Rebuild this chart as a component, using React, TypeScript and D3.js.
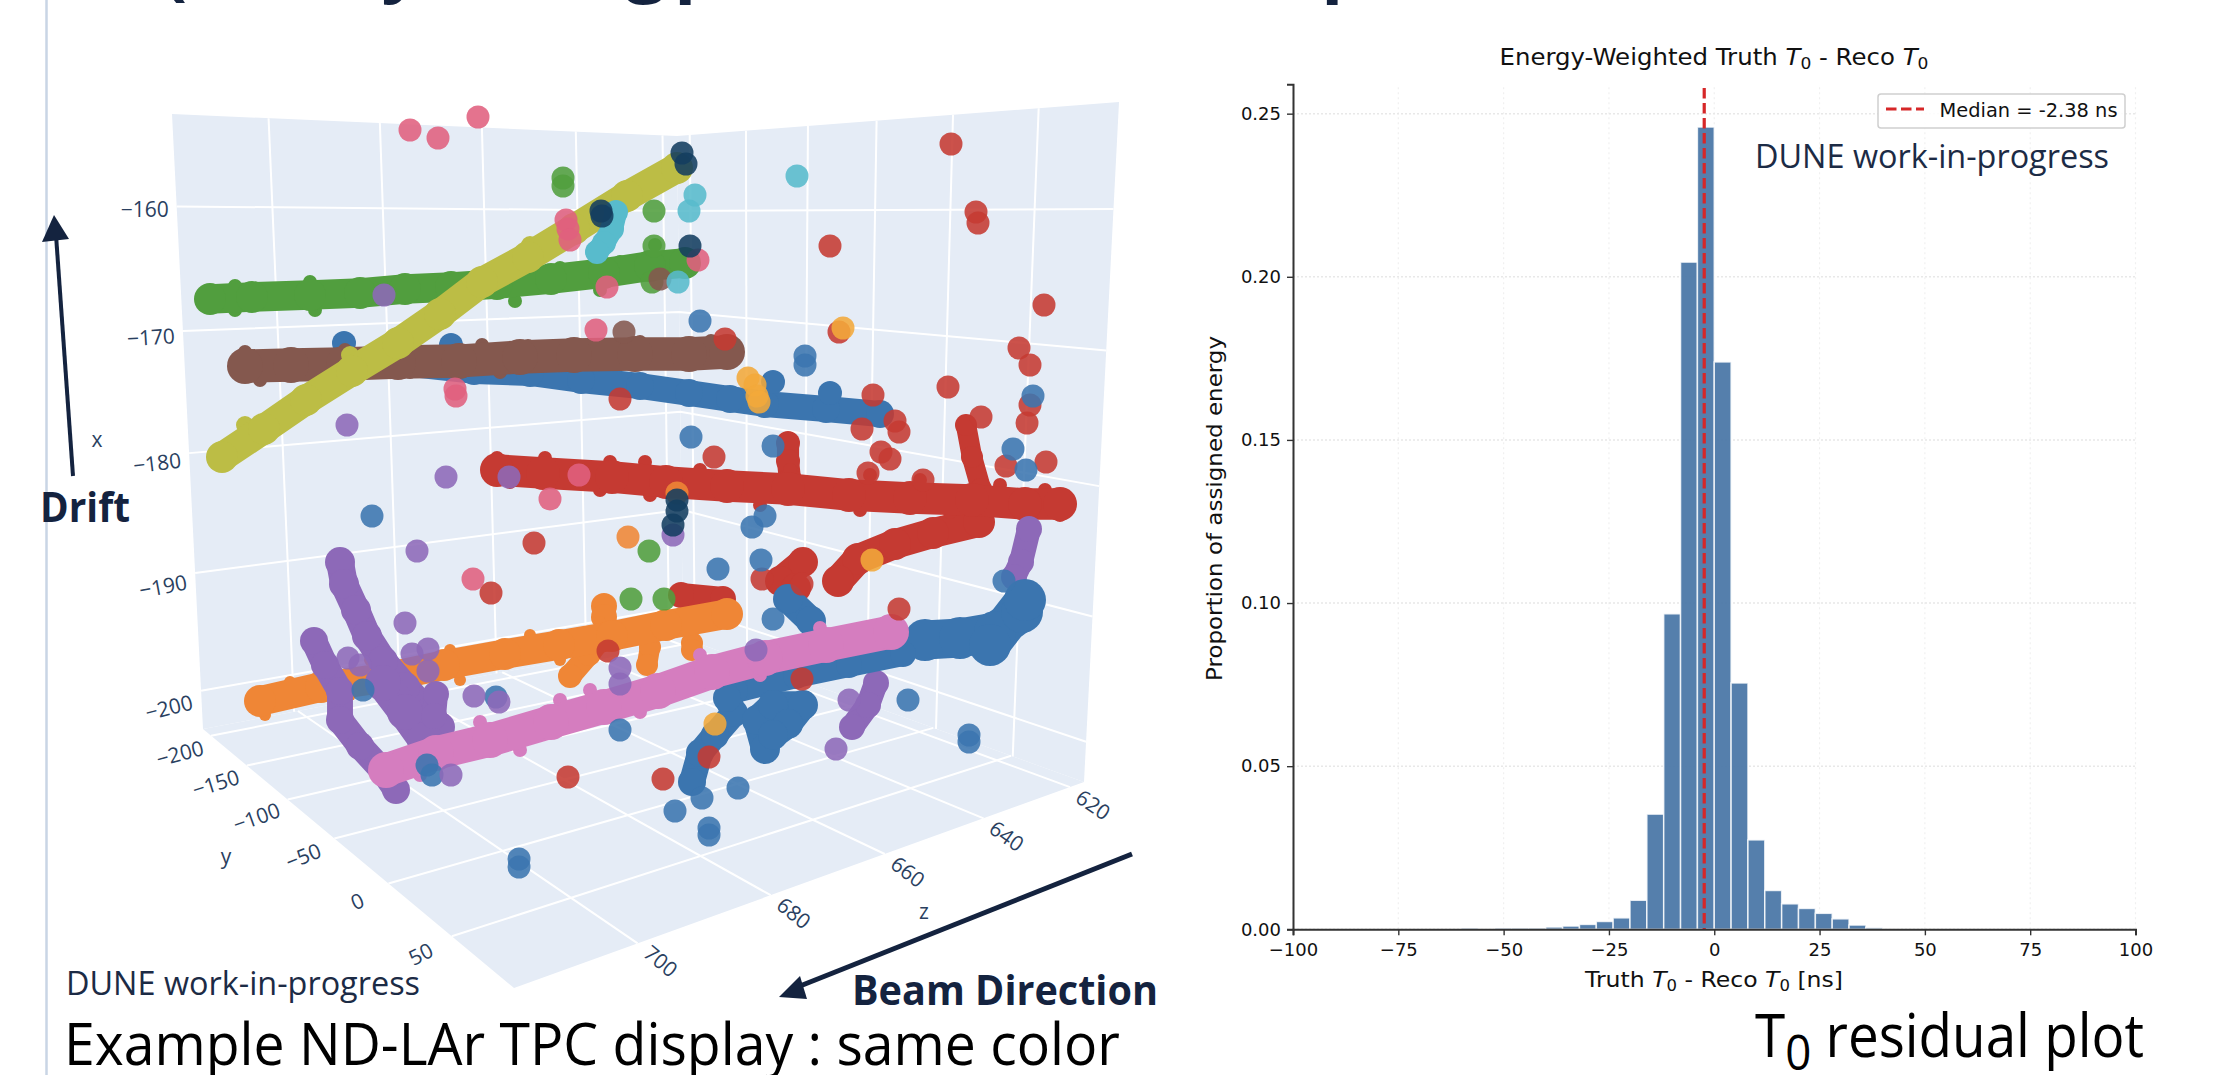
import React, { useRef, useEffect } from "react";
import * as d3 from "d3";

const WIDTH = 2222;
const HEIGHT = 1075;

// ---- histogram data (4 ns bins from -100 to 100) ----
const binEdgeStart = -100;
const binWidth = 4;
const binValues = [
  0, 0, 0, 0, 0, 0, 0, 0, 0, 0,
  0.0004, 0.0001, 0.0004, 0.0004, 0.0004, 0.0007, 0.001, 0.0015, 0.0024, 0.0035,
  0.0089, 0.0353, 0.0967, 0.2045, 0.2459, 0.1739, 0.0755, 0.0274, 0.0119, 0.0078,
  0.0064, 0.0049, 0.0032, 0.0013, 0.0005, 0.0001, 0, 0, 0, 0,
  0, 0, 0, 0, 0, 0, 0, 0, 0, 0,
];
const medianValue = -2.38;
const histXTicks = [-100, -75, -50, -25, 0, 25, 50, 75, 100];
const histYTicks = [0, 0.05, 0.1, 0.15, 0.2, 0.25];

// ---- 3D display axis ticks ----
const xAxisTicks = [-160, -170, -180, -190, -200];
const yAxisTicks = [-200, -150, -100, -50, 0, 50];
const zAxisTicks = [620, 640, 660, 680, 700];

// ---- hit tracks as [beam position, drift] ----
const blueUpper = [[770, -175.2], [758.8, -175.2], [744, -176], [732.8, -176.2], [722.6, -176.9], [710.8, -177.5], [701, -178.2], [692.8, -178.8], [685.8, -179.3], [673.6, -179.8], [662.8, -180.3]];
const blueUpperBumps = [[770, -173.2], [770, -174.4], [748.6, -173.4], [684.2, -177.1], [672.8, -178.2]];
const greenTrack = [[796.8, -168.8], [788.4, -168.6], [776.8, -168.4], [766.8, -168.2], [757.8, -167.8], [748.6, -167.6], [739.4, -167.3], [728.6, -166.8], [718, -166.2], [708.8, -165.5], [701.8, -165.2]];
const greenBumps = [[791.8, -167.5], [776.8, -167.1], [759.8, -167.2], [746.4, -166.9], [726.8, -165.7], [714.8, -165.1], [707.8, -163.4], [791.8, -169.9], [775.8, -169.9], [750.8, -169.4], [735.8, -169], [718.8, -167.9]];
const brownTrack = [[789.8, -175.5], [780.6, -175.4], [770, -175.3], [759.2, -175.1], [747, -175], [734.8, -174.6], [724, -174.4], [711.8, -174.3], [701, -174.3], [693.4, -174.1]];
const brownBumps = [[789.8, -174.1], [769.8, -173.9], [742.4, -173.4], [733.2, -173.5], [723.8, -173.4], [710.8, -173.1], [696.6, -173], [786.8, -176.9], [772.8, -176.7], [756.8, -176.1], [738.8, -176.1]];
const oliveTrack = [[794.4, -184.6], [786, -181.8], [777.6, -178.9], [768.4, -176], [759.2, -173.2], [750.8, -170.3], [742.4, -167.1], [733.2, -164.6], [724, -161.8], [713.4, -158.5], [703.4, -155.7]];
const oliveBumps = [[789.8, -181.4], [768.8, -174.4], [748.8, -168.9], [732.8, -163.4]];
const redMain = [[739.4, -185.9], [730.2, -186.2], [716.4, -186.6], [705.6, -187.1], [693.4, -187.5], [681.2, -187.8], [669, -188.4], [656.8, -188.7], [644.4, -188.9], [633.8, -189.3], [626.8, -189.3]];
const redBumps = [[739.4, -184.7], [729.8, -184.7], [716.8, -185.1], [709.8, -185.1], [698.8, -185.9], [680.8, -185.9], [664.8, -186.4], [654.8, -186.9], [638.8, -187.4], [629.8, -187.9], [736.8, -187.1], [718.8, -187.9], [708.8, -188.4], [686.8, -189.4], [666.8, -189.9], [648.8, -190.1], [632.8, -190.9], [626.8, -190.4]];
const redVertical = [[645.6, -181.4], [644.4, -184.6], [642.6, -187.8]];
const redStub = [[681.2, -183.2], [681.2, -185], [680.8, -186.9]];
const redDiagonal = [[643, -191.1], [652.2, -192.2], [659.8, -193.3], [667.2, -194.8], [671.2, -197]];
const redCluster = [[678.2, -195.1], [682.8, -197], [679.6, -197.7]];
const redBehindOrange = [[702.6, -198.4], [694.2, -198.8]];
const orangeTrack = [[786.8, -209], [774.6, -207.6], [762.2, -206.7], [750, -205.4], [737.8, -204.3], [727, -203.4], [716.4, -202.5], [705.6, -201.4], [693.4, -200.3]];
const orangeBumps = [[780.8, -207.1], [764.8, -204.9], [748.8, -203.9], [732.8, -202.4], [718.8, -201.1], [785.8, -210.4], [768.8, -208.4], [746.8, -206.9], [726.8, -204.9]];
const orangeBranchA = [[718, -199.5], [718, -200.6]];
const orangeBranchB = [[718.8, -202.9], [721, -204.3], [724.8, -206.5]];
const orangeBranchC = [[708.8, -203.6], [709.4, -205.4]];
const orangeBranchD = [[700.4, -203.2], [700.4, -203.9]];
const purpleA = [[770.8, -195.1], [770, -197.3], [767.6, -199.9], [765.4, -202.5], [762.2, -205], [757.8, -207.6], [753.2, -210.2], [750.8, -211.6]];
const purpleB = [[776, -203], [773.8, -205.4], [770.8, -208], [770.8, -210.9], [766.8, -213.5], [762.2, -216], [759.6, -217.9]];
const purpleC = [[762.2, -207.2], [757.8, -210.1], [753.8, -212.9]];
const purpleD = [[751.6, -208.3], [752, -210.5]];
const purpleRight = [[633, -191.8], [634.6, -195.1], [636, -196.6]];
const purpleLower = [[663.6, -207.2], [665.2, -209.4], [668.4, -211.6]];
const blueThin = [[691.8, -208], [679.6, -206.5], [669, -205.4], [658.2, -204.3]];
const blueBlob = [[653.8, -202.9], [646.8, -202.7], [639.8, -202.1], [634.4, -200.1], [633.8, -198.9], [640.8, -203.4]];
const blueChainA = [[700.4, -217.1], [698.8, -214.2], [695.8, -212.4], [692, -210.2], [693.4, -208.7]];
const blueChainB = [[685.8, -213.8], [687.4, -210.9], [684.2, -209.4], [678.2, -209.4], [681.2, -211.3], [684.2, -212.4]];
const blueChainC = [[681.2, -198.8], [676.6, -201]];
const pinkTrack = [[761.6, -215.9], [751.6, -214.2], [740.8, -212.9], [728.6, -211.1], [718, -209.6], [707.2, -208], [696.4, -206.1], [685.8, -204.7], [673.6, -203.4], [660.6, -202.1]];
const pinkBumps = [[742.8, -211.1], [726.8, -208.9], [720.8, -207.9], [698.8, -204.4], [674.8, -201.7], [754.8, -216.4], [734.8, -213.9], [710.8, -210.1], [686.8, -206.4]];
const cyanStreak = [[715.6, -160.1], [716.4, -161.8], [718, -163.2], [719.4, -164.1]];

// ---- isolated hits ----
const roseHits = [[756.8, -151.9], [751.2, -152.7], [743.2, -150.6], [725.6, -160.9], [725.2, -161.8], [724.8, -162.9], [699.2, -164.9], [717.4, -167.6], [719.6, -171.9], [747.8, -177.8], [747.6, -178.5], [723, -186.4], [728.8, -188.8], [744.2, -196.8]];
const cyanHits = [[679.4, -156.5], [699.8, -158.4], [701, -160], [703.2, -167.1]];
const navyHits = [[702.4, -154.2], [701.6, -155.3], [718.6, -160], [718.4, -160.5], [700.8, -163.5], [703.4, -188.9], [703.4, -190], [704.2, -191.4]];
const greenHits = [[726.2, -156.7], [726.2, -157.5], [708, -160], [708, -163.5], [708.4, -167.1], [712.6, -198.8], [706, -198.8], [709, -194]];
const brownHits = [[714, -172.1], [706.8, -166.8]];
const orangeHits = [[703.4, -188.2], [713.2, -192.6]];
const amberHits = [[670.2, -171.7], [664.4, -194.9], [695.8, -211.3], [689.2, -176.7], [687.8, -177.4], [687.4, -178.5], [687, -179.1]];
const purpleHits = [[671.6, -213.8], [669, -208.9], [714.8, -205.7], [714.8, -207.3], [744, -208.5], [739, -209.1], [748.6, -216.4], [757.8, -201.2], [755.4, -194], [753.2, -206], [753.2, -203.8], [756.4, -204.3], [769.2, -204.7], [766.8, -205.4], [687.6, -203.9], [704.2, -192.4], [762, -168.4], [769.4, -181.4], [749.6, -186.6], [737, -186.6]];
const redHits = [[648.6, -153.3], [643.6, -160.1], [643.2, -161.2], [672.8, -163.5], [630, -169.4], [671, -172.1], [693.8, -172.8], [635, -173.7], [632.8, -175.4], [649.2, -177.6], [664.2, -178.4], [714.8, -178.8], [632.8, -179.4], [642.6, -180.6], [633.4, -181.2], [659.8, -181], [659, -182.1], [666.4, -181.8], [662.6, -184.1], [660.8, -184.8], [696, -184.6], [637.6, -185.5], [629.6, -185.1], [665.2, -186.2], [654.2, -186.9], [732, -193.2], [740.6, -198.2], [717.2, -204], [678.4, -206.8], [725.2, -216.6], [706.2, -216.8], [697, -214.6], [659, -199.8], [686.4, -196.8], [678.4, -197.3]];
const blueHits = [[698.8, -171], [677.8, -174.5], [677.8, -175.4], [632.2, -178.5], [700.6, -182.6], [684.2, -183.5], [636.2, -183.8], [633.6, -185.9], [764.4, -190.5], [685.8, -190.5], [688.4, -191.6], [686.6, -194.9], [695.2, -195.8], [684.2, -200.8], [739.6, -208.6], [766.2, -207.9], [753.4, -215.4], [752.4, -216.4], [714.8, -211.9], [691.2, -217.7], [698.4, -218.7], [703.8, -220], [697, -221.7], [697, -222.4], [735, -224.8], [735, -225.6], [657.2, -208.9], [645, -212.4], [645, -213.1], [638, -197]];

const COLORS = {
  blue: "#3b75af", red: "#c53a32", green: "#519e3e", orange: "#ef8636",
  purple: "#8d69b8", brown: "#84584e", pink: "#d57dbf", olive: "#bcbd45",
  cyan: "#58bbcc", navy: "#133e60", rose: "#e0607e", amber: "#f3a93a",
};

// draw order matters, tracks overlap each other
const tracks: [number[][], string, number, boolean][] = [
  [blueUpper, COLORS.blue, 14, true],
  [blueUpperBumps, COLORS.blue, 12, false],
  [greenBumps, COLORS.green, 7, false],
  [greenTrack, COLORS.green, 16, true],
  [brownBumps, COLORS.brown, 7, false],
  [brownTrack, COLORS.brown, 18, true],
  [oliveBumps, COLORS.olive, 9, false],
  [oliveTrack, COLORS.olive, 16, true],
  [cyanStreak, COLORS.cyan, 12, true],
  [redBehindOrange, COLORS.red, 13, true],
  [redVertical, COLORS.red, 11, true],
  [redStub, COLORS.red, 12, true],
  [redDiagonal, COLORS.red, 16, true],
  [redCluster, COLORS.red, 15, true],
  [redBumps, COLORS.red, 7, false],
  [redMain, COLORS.red, 17, true],
  [blueChainC, COLORS.blue, 15, true],
  [orangeBranchA, COLORS.orange, 13, true],
  [orangeBranchB, COLORS.orange, 12, true],
  [orangeBranchC, COLORS.orange, 11, true],
  [orangeBranchD, COLORS.orange, 11, true],
  [orangeBumps, COLORS.orange, 6, false],
  [orangeTrack, COLORS.orange, 16, true],
  [purpleA, COLORS.purple, 15, true],
  [purpleB, COLORS.purple, 14, true],
  [purpleC, COLORS.purple, 18, true],
  [purpleD, COLORS.purple, 13, true],
  [purpleRight, COLORS.purple, 13, true],
  [purpleLower, COLORS.purple, 13, true],
  [blueBlob, COLORS.blue, 21, true],
  [blueThin, COLORS.blue, 13, true],
  [blueChainA, COLORS.blue, 14, true],
  [blueChainB, COLORS.blue, 15, true],
  [pinkBumps, COLORS.pink, 7, false],
  [pinkTrack, COLORS.pink, 18, true],
];
const hitGroups: [number[][], string][] = [
  [greenHits, COLORS.green],
  [redHits, COLORS.red],
  [blueHits, COLORS.blue],
  [purpleHits, COLORS.purple],
  [brownHits, COLORS.brown],
  [orangeHits, COLORS.orange],
  [cyanHits, COLORS.cyan],
  [amberHits, COLORS.amber],
  [roseHits, COLORS.rose],
  [navyHits, COLORS.navy],
];

// maps the unit square onto a quad (perspective walls of the 3D box)
const quadMap = (q: number[][]) => {
  const [[x0, y0], [x1, y1], [x2, y2], [x3, y3]] = q;
  const dx1 = x1 - x2, dx2 = x3 - x2, sx = x0 - x1 + x2 - x3;
  const dy1 = y1 - y2, dy2 = y3 - y2, sy = y0 - y1 + y2 - y3;
  const den = dx1 * dy2 - dx2 * dy1;
  const g = (sx * dy2 - dx2 * sy) / den;
  const h = (dx1 * sy - sx * dy1) / den;
  const a = x1 - x0 + g * x1, b = x3 - x0 + h * x3;
  const d = y1 - y0 + g * y1, e = y3 - y0 + h * y3;
  return (u: number, v: number) => {
    const w = g * u + h * v + 1;
    return [(a * u + b * v + x0) / w, (d * u + e * v + y0) / w];
  };
};

const NAVY = "#14233f";
const PLOTLY_TEXT = "#2a3f5f";

const drawDisplay = (svg: any) => {
  const g = svg.append("g");

  // box corners of the scene
  const A = [172, 114], B = [677, 136], C = [1119, 102];
  const D = [203, 729], E = [683, 638], F = [1084, 782], G_ = [514, 988];

  const uZ = d3.scaleLinear().domain([716, 616.5]).range([0, 1]);
  const uY = d3.scaleLinear().domain([-212, 92]).range([0, 1]);
  const vX = d3.scaleLinear().domain([-203.3, -152.7]).range([0, 1]);

  const floor = quadMap([D, E, F, G_]); // (z, y)
  const leftWall = quadMap([D, E, B, A]); // (z, x)
  const rightWall = quadMap([E, F, C, B]); // (y, x)
  const line = d3.line();

  [[D, E, B, A], [E, F, C, B], [D, E, F, G_]].forEach((q) => {
    g.append("path").attr("d", line(q as any) + "Z").attr("fill", "#e5ecf6");
  });

  const grid = (pts: number[][]) =>
    g.append("path").attr("d", line(pts as any)).attr("fill", "none")
      .attr("stroke", "#fff").attr("stroke-width", 2);

  xAxisTicks.forEach((t) => {
    grid([leftWall(0, vX(t)), leftWall(1, vX(t)), rightWall(1, vX(t))]);
  });
  zAxisTicks.forEach((t) => {
    grid([leftWall(uZ(t), 0), leftWall(uZ(t), 1)]);
    grid([floor(uZ(t), 0), floor(uZ(t), 1)]);
  });
  yAxisTicks.forEach((t) => {
    grid([rightWall(uY(t), 0), rightWall(uY(t), 1)]);
    grid([floor(0, uY(t)), floor(1, uY(t))]);
  });

  // tick labels
  const tickLabel = (px: number, py: number, rot: number, txt: string) =>
    g.append("text")
      .attr("transform", `translate(${px},${py}) rotate(${rot})`)
      .attr("text-anchor", "middle").attr("dy", "0.35em")
      .attr("font-family", "'Open Sans'").attr("font-size", 21)
      .attr("fill", PLOTLY_TEXT).text(txt);

  const minus = (t: number) => String(t).replace("-", "\u2212");
  const rotX = d3.scaleLinear().domain([-160, -200]).range([0, -14]);
  const rotY = d3.scaleLinear().domain([-200, 50]).range([-15, -27]);
  const rotZ = d3.scaleLinear().domain([620, 700]).range([34, 40]);
  const dropX = d3.scaleLinear().domain([-160, -200]).range([3, 17]);
  xAxisTicks.forEach((t) => {
    const [px, py] = leftWall(0, vX(t));
    tickLabel(px - 32, py + dropX(t), rotX(t), minus(t));
  });
  yAxisTicks.forEach((t) => {
    const [px, py] = floor(0, uY(t));
    tickLabel(px - 31, py + 18, rotY(t), minus(t));
  });
  zAxisTicks.forEach((t) => {
    const [px, py] = floor(uZ(t), 1);
    tickLabel(px + 23, py + 18, rotZ(t), String(t));
  });
  tickLabel(97, 440, 0, "x");
  tickLabel(226, 857, 0, "y");
  tickLabel(924, 912, 0, "z");

  // flat reading of the picture: beam position and drift
  const hScale = d3.scaleLinear().domain([620, 700]).range([1094, 694]);
  const vScale = d3.scaleLinear().domain([-160, -200]).range([211, 611]);
  const trackLine = d3.line()
    .x((d: any) => hScale(d[0]))
    .y((d: any) => vScale(d[1]));

  tracks.forEach(([pts, color, r, joined]) => {
    if (joined) {
      g.append("path").attr("d", trackLine(pts as any)).attr("fill", "none")
        .attr("stroke", color).attr("stroke-width", r * 1.85)
        .attr("stroke-linecap", "round").attr("stroke-linejoin", "round");
    }
    g.append("g").selectAll("circle").data(pts).enter().append("circle")
      .attr("cx", (d: any) => hScale(d[0]))
      .attr("cy", (d: any) => vScale(d[1]))
      .attr("r", r).attr("fill", color);
  });

  hitGroups.forEach(([pts, color]) => {
    g.append("g").selectAll("circle").data(pts).enter().append("circle")
      .attr("cx", (d: any) => hScale(d[0]))
      .attr("cy", (d: any) => vScale(d[1]))
      .attr("r", 11.5).attr("fill", color).attr("fill-opacity", 0.88);
  });
};

// text with italic T and subscript 0, like matplotlib mathtext
const mathText = (sel: any, parts: string[]) => {
  let pendingUp = false;
  parts.forEach((p) => {
    const sp = sel.append("tspan");
    if (p === "$T") {
      sp.attr("font-style", "italic").text("T");
      if (pendingUp) sp.attr("dy", "-0.2em");
      pendingUp = false;
    } else if (p === "$0") {
      sp.attr("font-size", "0.7em").attr("dy", "0.25em").text("0");
      pendingUp = true;
    } else {
      sp.text(p);
      if (pendingUp) sp.attr("dy", "-0.18em");
      pendingUp = false;
    }
  });
};

const drawHistogram = (svg: any) => {
  const x = d3.scaleLinear().domain([-100, 100]).range([1293, 2135.5]);
  const y = d3.scaleLinear().domain([0, 0.259]).range([929.3, 84.3]);
  const g = svg.append("g").attr("font-family", "'DejaVu Sans'");

  // faint dotted grid
  histXTicks.forEach((t) => {
    g.append("line").attr("x1", x(t)).attr("x2", x(t)).attr("y1", y(0)).attr("y2", y(0.259))
      .attr("stroke", "#f0f0f0").attr("stroke-width", 1.2).attr("stroke-dasharray", "2,3");
  });
  histYTicks.forEach((t) => {
    g.append("line").attr("x1", x(-100)).attr("x2", x(100)).attr("y1", y(t)).attr("y2", y(t))
      .attr("stroke", "#e8e8e8").attr("stroke-width", 1.5).attr("stroke-dasharray", "2,2");
  });

  g.append("g").selectAll("rect").data(binValues).enter().append("rect")
    .attr("x", (d: number, i: number) => x(binEdgeStart + i * binWidth))
    .attr("width", x(binWidth) - x(0))
    .attr("y", (d: number) => y(d))
    .attr("height", (d: number) => y(0) - y(d))
    .attr("fill", "#4c78a8").attr("fill-opacity", 0.95)
    .attr("stroke", "#fff").attr("stroke-opacity", 0.8).attr("stroke-width", 1.5);

  g.append("line").attr("x1", x(medianValue)).attr("x2", x(medianValue))
    .attr("y1", 88).attr("y2", y(0))
    .attr("stroke", "#d62728").attr("stroke-width", 3.2).attr("stroke-dasharray", "10.5,4.5");

  const xAxis = g.append("g").attr("transform", `translate(0,${y(0)})`)
    .call(d3.axisBottom(x).tickValues(histXTicks).tickSizeOuter(0).tickSize(6).tickPadding(8));
  const yAxis = g.append("g").attr("transform", `translate(${x(-100)},0)`)
    .call(d3.axisLeft(y).tickValues(histYTicks).tickFormat(d3.format(".2f")).tickSizeOuter(0).tickSize(6).tickPadding(6));
  [xAxis, yAxis].forEach((a) => {
    a.attr("font-family", "'DejaVu Sans'").attr("font-size", 18);
    a.selectAll("text").attr("fill", "#111");
    a.selectAll("line").attr("stroke", "#333").attr("stroke-width", 1.4);
    a.select(".domain").attr("stroke", "#333").attr("stroke-width", 2);
  });

  const label = (px: number, py: number, size: number, len: number, rot: number, parts: string[]) => {
    const t = g.append("text")
      .attr("transform", `translate(${px},${py}) rotate(${rot})`)
      .attr("text-anchor", "middle").attr("font-size", size).attr("fill", "#111")
      .attr("textLength", len).attr("lengthAdjust", "spacingAndGlyphs");
    mathText(t, parts);
  };
  label(1714, 65, 23, 429, 0, ["Energy-Weighted Truth ", "$T", "$0", " - Reco ", "$T", "$0"]);
  label(1714, 987, 22, 258, 0, ["Truth ", "$T", "$0", " - Reco ", "$T", "$0", " [ns]"]);
  label(1222, 508.5, 22, 345, -90, ["Proportion of assigned energy"]);

  // legend
  g.append("rect").attr("x", 1878).attr("y", 94).attr("width", 247).attr("height", 34).attr("rx", 3)
    .attr("fill", "#fff").attr("fill-opacity", 0.85).attr("stroke", "#cfcfcf").attr("stroke-width", 1.5);
  g.append("line").attr("x1", 1886).attr("x2", 1924).attr("y1", 109).attr("y2", 109)
    .attr("stroke", "#d62728").attr("stroke-width", 3.2).attr("stroke-dasharray", "10.5,4.5");
  g.append("text").attr("x", 1939.5).attr("y", 117).attr("font-size", 19).attr("fill", "#111")
    .attr("textLength", 178).attr("lengthAdjust", "spacingAndGlyphs").text("Median = -2.38 ns");
};

// slide furniture around the two plots
const drawSlideText = (svg: any) => {
  const g = svg.append("g").attr("font-family", "'Open Sans'");
  g.append("line").attr("x1", 46.5).attr("x2", 46.5).attr("y1", 0).attr("y2", HEIGHT)
    .attr("stroke", "#c9d5e5").attr("stroke-width", 2.5);

  // what is left of the slide title, only the descenders show
  [["(", 175, -8], ["y", 402, -12], ["g", 646, -12], ["p", 697, -12], ["p", 1344, -12]].forEach(([c, px, py]) => {
    g.append("text").attr("x", px).attr("y", py).attr("text-anchor", "middle")
      .attr("font-size", 72).attr("font-weight", 700).attr("fill", NAVY).text(c);
  });

  const txt = (px: number, py: number, size: number, len: number, fill: string, weight: number, s: string) =>
    g.append("text").attr("x", px).attr("y", py).attr("font-size", size)
      .attr("font-weight", weight).attr("fill", fill)
      .attr("textLength", len).attr("lengthAdjust", "spacingAndGlyphs").text(s);

  txt(40, 522, 42, 90, NAVY, 700, "Drift");
  txt(852, 1005, 42, 306, NAVY, 700, "Beam Direction");
  txt(66, 995, 33, 354, "#1c2b45", 400, "DUNE work-in-progress");
  txt(1755, 168, 33, 354, "#1c2b45", 400, "DUNE work-in-progress");
  txt(64, 1065, 58, 1056, "#000", 400, "Example ND-LAr TPC display : same color");

  const t0 = g.append("text").attr("x", 1755).attr("y", 1057).attr("font-size", 60).attr("fill", "#000")
    .attr("textLength", 389).attr("lengthAdjust", "spacingAndGlyphs");
  t0.append("tspan").text("T");
  t0.append("tspan").attr("dy", 13).attr("font-size", 50).text("0");
  t0.append("tspan").attr("dy", -13).text(" residual plot");

  // drift and beam arrows
  g.append("line").attr("x1", 73).attr("y1", 476).attr("x2", 56).attr("y2", 235)
    .attr("stroke", NAVY).attr("stroke-width", 4);
  g.append("path").attr("d", "M54,215L69,239L42,242Z").attr("fill", NAVY);
  g.append("line").attr("x1", 1132).attr("y1", 854).attr("x2", 795).attr("y2", 988)
    .attr("stroke", NAVY).attr("stroke-width", 5);
  g.append("path").attr("d", "M779,997L800,976L807,999Z").attr("fill", NAVY);
};

const App = () => {
  const svgRef = useRef(null);

  useEffect(() => {
    const svg = d3.select(svgRef.current);
    svg.selectAll("*").remove(); // Clear previous render
    svg.append("rect").attr("width", WIDTH).attr("height", HEIGHT).attr("fill", "#fff");
    drawDisplay(svg);
    drawHistogram(svg);
    drawSlideText(svg);
  }, []);

  return (
    <svg
      ref={svgRef}
      width={WIDTH}
      height={HEIGHT}
      style={{ position: "absolute", left: 0, top: 0, display: "block" }}
    ></svg>
  );
};

export default App;
